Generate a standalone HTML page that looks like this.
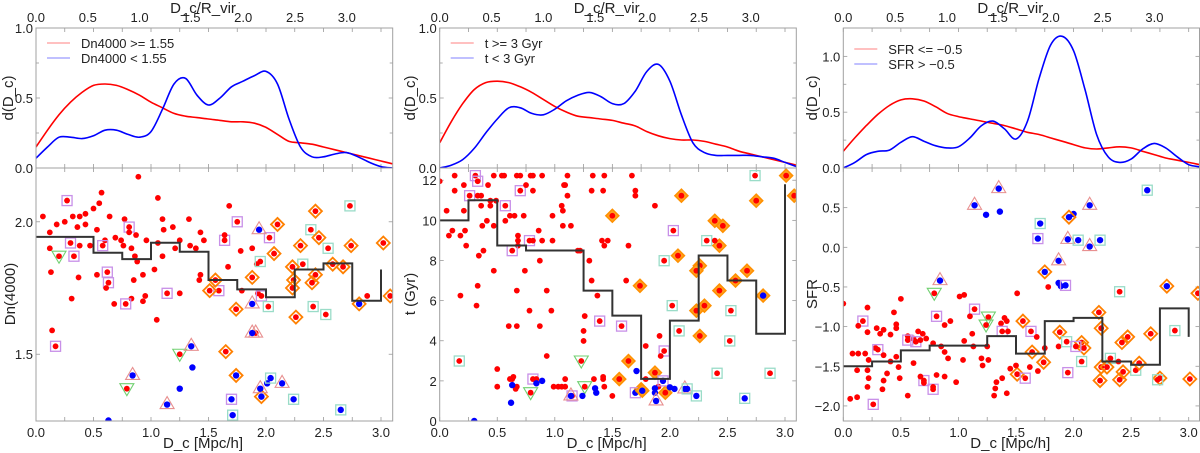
<!DOCTYPE html>
<html><head><meta charset="utf-8"><style>
html,body{margin:0;padding:0;background:#fff;}
svg{display:block;font-family:"Liberation Sans",sans-serif;}
</style></head><body>
<svg id="chart" width="1200" height="453" viewBox="0 0 1200 453" xmlns="http://www.w3.org/2000/svg"></svg>
<script>
// ---------- data ----------
const kdeX = [0,0.1,0.2,0.3,0.4,0.5,0.6,0.7,0.8,0.9,1.0,1.1,1.2,1.3,1.4,1.5,1.6,1.7,1.8,1.9,2.0,2.1,2.2,2.3,2.4,2.5,2.6,2.7,2.8,2.9,3.0,3.1];
const kde1Red  = [0.15,0.27,0.38,0.47,0.54,0.59,0.60,0.59,0.56,0.52,0.47,0.43,0.39,0.37,0.36,0.35,0.34,0.33,0.33,0.32,0.29,0.24,0.19,0.18,0.17,0.15,0.13,0.11,0.09,0.07,0.05,0.03];
const kde1Blue = [0.07,0.15,0.22,0.22,0.21,0.23,0.27,0.27,0.24,0.22,0.26,0.42,0.60,0.64,0.52,0.45,0.50,0.58,0.62,0.66,0.69,0.60,0.35,0.15,0.08,0.08,0.10,0.11,0.08,0.04,0.01,0.0];
const kde2Red  = [0.18,0.33,0.46,0.56,0.61,0.62,0.61,0.58,0.54,0.49,0.44,0.40,0.37,0.36,0.35,0.34,0.32,0.30,0.26,0.23,0.21,0.20,0.20,0.19,0.17,0.15,0.12,0.10,0.08,0.06,0.04,0.02];
const kde2Blue = [0.0,0.02,0.06,0.14,0.25,0.35,0.43,0.43,0.39,0.38,0.42,0.48,0.52,0.54,0.51,0.46,0.46,0.55,0.69,0.74,0.62,0.38,0.18,0.11,0.09,0.09,0.09,0.09,0.08,0.07,0.04,0.01];
const kde3Red  = [0.15,0.27,0.38,0.48,0.56,0.61,0.62,0.60,0.55,0.49,0.46,0.44,0.42,0.40,0.38,0.35,0.32,0.30,0.27,0.24,0.21,0.18,0.17,0.18,0.19,0.18,0.15,0.12,0.09,0.07,0.05,0.03];
const kde3Blue = [0.0,0.05,0.12,0.15,0.16,0.23,0.28,0.24,0.20,0.18,0.19,0.27,0.38,0.42,0.35,0.26,0.42,0.80,1.10,1.18,1.05,0.70,0.30,0.10,0.05,0.08,0.17,0.22,0.18,0.10,0.03,0.01];

const binEdges = [0,0.25,0.5,0.75,1.0,1.25,1.5,1.75,2.0,2.25,2.5,2.75,3.0];
const step1 = [1.943,1.943,1.883,1.859,1.921,1.887,1.78,1.745,1.715,1.82,1.843,1.702];
const step1End = 1.82;
const step2 = [10,11,8.75,8.5,8.5,6.5,5.25,2.1,5.0,8.25,7.0,4.35];
const step2End = 11.8;
const step3 = [-1.5,-1.44,-1.3,-1.24,-1.24,-1.12,-1.34,-0.93,-0.89,-1.44,-1.48,-0.77];
const step3End = -1.13;

const pts1 = [[0.89,2.17,'r'],[0.57,2.11,'r'],[1.06,2.09,'r'],[0.55,2.07,'r'],[0.50,2.05,'r'],[0.43,2.03,'r'],[0.27,2.08,'rs'],[0.06,2.02,'r'],[0.32,2.02,'r'],[0.38,2.02,'r'],[0.64,2.02,'r'],[0.77,2.01,'r'],[1.10,2.01,'r'],[1.33,2.01,'r'],[1.68,2.06,'r'],[1.75,2.00,'rs'],[0.81,1.98,'rs'],[0.25,2.00,'r'],[0.18,1.99,'r'],[0.43,1.99,'r'],[0.36,1.98,'r'],[0.53,1.97,'r'],[0.69,1.94,'r'],[0.81,1.96,'r'],[0.87,1.95,'r'],[1.11,1.97,'r'],[1.19,1.98,'r'],[1.43,1.96,'r'],[1.46,1.93,'r'],[0.96,1.93,'r'],[1.06,1.92,'r'],[1.25,1.93,'r'],[1.34,1.91,'r'],[1.21,1.90,'r'],[1.39,1.90,'r'],[0.12,1.96,'r'],[0.12,1.90,'r'],[0.30,1.92,'rs'],[0.38,1.91,'r'],[0.47,1.91,'r'],[0.60,1.93,'r'],[0.74,1.93,'r'],[0.76,1.91,'r'],[0.83,1.90,'r'],[1.10,1.87,'r'],[0.86,1.87,'r'],[0.88,1.85,'r'],[0.58,1.91,'rs'],[1.64,1.93,'rs'],[1.64,1.95,'r'],[1.78,1.89,'r'],[1.88,1.90,'r'],[2.03,1.94,'rs'],[1.92,1.84,'r'],[1.67,1.83,'r'],[1.03,1.82,'r'],[1.43,1.80,'r'],[1.42,1.78,'r'],[0.53,1.80,'r'],[0.13,1.81,'r'],[0.37,1.79,'r'],[0.31,1.71,'r'],[0.62,1.81,'rs'],[0.63,1.77,'rs'],[0.61,1.75,'r'],[0.85,1.78,'r'],[0.93,1.80,'r'],[0.95,1.72,'r'],[0.93,1.70,'r'],[0.83,1.71,'r'],[0.78,1.69,'rs'],[0.68,1.69,'r'],[1.14,1.73,'rs'],[1.25,1.73,'r'],[1.05,1.63,'r'],[1.59,1.74,'rs'],[1.79,1.74,'r'],[1.93,1.73,'r'],[1.96,1.72,'rs'],[2.88,1.72,'r'],[0.14,1.59,'r'],[0.17,1.53,'rs'],[1.25,1.50,'rv'],[0.79,1.37,'rv'],[1.91,1.58,'rt'],[0.20,1.87,'rv'],[0.33,1.87,'rs'],
[2.02,1.68,'rc'],[2.41,1.68,'rc'],[2.52,1.65,'rc'],[2.73,2.06,'rc'],[2.39,1.97,'rc'],[2.54,1.90,'rc'],[1.95,1.85,'rc'],[2.32,1.84,'rc'],
[3.08,1.72,'rd'],[2.43,2.04,'rd'],[2.10,1.99,'rd'],[2.46,1.94,'rd'],[3.02,1.92,'rd'],[2.30,1.91,'rd'],[2.74,1.91,'rd'],[2.07,1.88,'rd'],[2.23,1.83,'rd'],[2.58,1.84,'rd'],[2.67,1.83,'rd'],[2.43,1.80,'rd'],[1.88,1.79,'rd'],[1.56,1.78,'rd'],[2.24,1.78,'rd'],[2.40,1.77,'rd'],[1.51,1.74,'rd'],[2.23,1.75,'rd'],[1.74,1.67,'rd'],[2.26,1.64,'rd'],[1.65,1.51,'rd'],
[1.94,1.97,'bt'],[1.88,1.69,'bt'],[1.88,1.58,'bt'],[1.35,1.53,'bt'],[1.36,1.45,'b'],[1.25,1.37,'b'],[0.84,1.42,'bt'],[1.14,1.31,'bt'],[0.63,1.25,'b'],[1.71,1.27,'bc'],[1.70,1.33,'bs'],[1.74,1.42,'bd'],[1.96,1.34,'bd'],[1.95,1.37,'bt'],[2.01,1.39,'b'],[2.04,1.41,'bc'],[2.14,1.39,'bt'],[2.24,1.33,'bc'],[2.65,1.29,'bc'],[2.81,1.69,'bd']];

const pts2 = [[0.13,12.23,'r'],[0.31,12.23,'rs'],[0.47,12.23,'r'],[0.54,12.23,'r'],[0.56,12.23,'r'],[0.67,12.23,'r'],[0.70,12.23,'r'],[0.79,12.23,'r'],[0.81,12.23,'r'],[0.89,12.23,'r'],[1.11,12.23,'r'],[1.33,12.23,'r'],[1.43,12.23,'r'],[1.67,12.23,'r'],[0.0,11.95,'r'],[0.33,11.95,'rs'],
[0.13,11.48,'r'],[0.70,11.48,'rs'],[0.81,11.48,'r'],[1.32,11.48,'r'],[1.42,11.48,'r'],[1.70,11.48,'r'],[0.21,11.76,'r'],[0.42,11.76,'r'],[0.75,11.76,'r'],[1.08,11.76,'r'],[1.09,11.76,'r'],[0.26,11.23,'rs'],[0.33,11.23,'r'],[0.36,11.23,'r'],[1.11,11.23,'r'],[1.70,11.23,'r'],[0.44,10.98,'r'],[0.49,10.98,'r'],[0.36,10.73,'r'],[0.44,10.73,'r'],[0.57,10.73,'rs'],[1.06,10.73,'r'],[1.87,10.73,'r'],[0.06,10.48,'r'],[0.21,10.48,'r'],[1.07,10.48,'r'],[0.61,10.23,'r'],[0.65,10.23,'r'],[0.73,10.23,'r'],[0.98,10.23,'r'],[0.41,9.98,'r'],[0.57,9.98,'r'],[0.37,9.73,'r'],[0.47,9.73,'r'],[1.07,9.73,'r'],[1.14,9.73,'r'],[0.11,9.49,'r'],[0.22,9.49,'r'],[0.86,9.49,'r'],[2.03,9.49,'rs'],[0.08,9.24,'r'],[0.18,9.24,'r'],[0.68,9.24,'r'],[0.68,8.99,'r'],[0.78,8.99,'rs'],[0.81,8.99,'r'],[0.89,8.99,'r'],[0.98,8.99,'r'],[1.41,8.99,'r'],[1.46,8.99,'r'],[0.23,8.74,'r'],[0.68,8.74,'r'],[1.43,8.74,'r'],[1.64,8.74,'r'],[0.38,8.49,'r'],[0.63,8.49,'rs'],[1.20,8.49,'r'],[1.22,8.49,'r'],[0.34,8.24,'r'],[0.87,7.99,'r'],[1.30,7.99,'r'],[1.95,7.99,'rc'],[0.47,7.49,'r'],[0.74,7.49,'r'],[1.32,7.0,'r'],[1.62,7.0,'r'],[0.33,6.74,'r'],[0.67,6.5,'r'],[0.93,6.5,'r'],[0.18,6.25,'r'],[1.37,6.25,'r'],[0.32,5.75,'r'],[2.02,5.75,'rc'],[0.78,5.5,'r'],[0.97,5.5,'r'],[1.26,5.23,'r'],[1.39,4.98,'rs'],[0.60,4.73,'r'],[0.67,4.73,'r'],[0.87,4.73,'r'],[1.58,4.73,'rs'],[1.25,4.49,'r'],[2.08,4.49,'rc'],[1.25,3.99,'r'],[2.52,3.99,'rc'],[1.91,4.24,'r'],[1.79,3.74,'r'],[1.95,3.49,'rs'],[0.93,3.24,'r'],[1.92,3.24,'r'],[0.17,2.99,'rc'],[1.23,2.99,'rv'],[0.50,2.59,'r'],[0.61,2.09,'r'],[0.63,2.09,'r'],[0.81,2.09,'rs'],[0.84,2.09,'r'],[1.09,2.09,'r'],[1.34,2.09,'r'],[1.42,2.09,'r'],[1.79,2.09,'r'],[0.64,2.2,'r'],[1.42,2.2,'r'],[0.50,1.71,'r'],[0.67,1.71,'r'],[0.99,1.71,'r'],[1.03,1.71,'r'],[1.06,1.71,'r'],[1.09,1.71,'r'],[1.26,1.71,'rv'],[1.43,1.71,'r'],[1.90,1.71,'r'],[0.66,1.6,'r'],[0.79,1.41,'rv'],[1.50,1.25,'r'],[1.15,1.25,'rs'],[2.41,2.38,'rc'],[2.87,2.38,'rc'],[2.32,8.99,'rc'],[2.53,5.5,'rc'],[2.74,12.23,'rc'],
[1.50,10.23,'rD'],[2.10,11.23,'rD'],[3.01,12.23,'rD'],[3.08,11.23,'rD'],[2.75,10.98,'rD'],[2.39,9.98,'rD'],[2.46,9.73,'rD'],[2.43,8.74,'rD'],[2.39,8.99,'r'],[2.07,8.24,'rD'],[2.26,7.74,'rD'],[2.23,7.49,'rD'],[2.67,7.49,'rD'],[1.74,6.74,'rD'],[2.57,7.0,'rD'],[2.43,6.5,'rD'],[2.81,6.25,'bD'],[2.30,5.75,'rD'],[2.23,5.5,'rD'],[2.26,4.24,'rD'],[1.64,2.99,'rD'],[1.56,2.09,'rD'],[1.87,2.41,'rD'],[1.75,1.58,'rD'],[1.96,1.41,'rD'],
[0.30,0.0,'b'],[0.62,0.91,'b'],[0.63,1.79,'b'],[0.84,1.88,'b'],[0.89,2.0,'b'],[1.14,1.25,'bt'],[1.24,1.25,'b'],[1.35,1.63,'b'],[1.36,1.41,'b'],[1.71,2.49,'b'],[1.70,1.41,'bs'],[1.87,1.63,'b'],[1.87,1.41,'b'],[1.88,1.0,'bt'],[1.94,2.0,'bs'],[2.0,1.68,'b'],[2.04,1.6,'b'],[2.13,1.6,'bt'],[2.15,1.6,'bc'],[2.23,1.25,'bc'],[1.76,1.51,'bD'],[2.65,1.13,'bc']];

const pts3 = [[1.35,0.74,'bt'],[1.14,0.53,'bt'],[1.24,0.41,'b'],[1.36,0.45,'b'],[2.64,0.72,'bc'],[2.14,0.53,'bt'],[2.0,0.42,'b'],[1.96,0.38,'bd'],[1.71,0.30,'bc'],[1.69,0.11,'bs'],[1.95,0.10,'bt'],[2.04,0.09,'bc'],[2.23,0.09,'bc'],[2.14,0.01,'bt'],[1.87,-0.17,'bt'],[1.75,-0.31,'bd'],[0.84,-0.42,'bt'],[1.87,-0.45,'b'],[1.89,-0.49,'b'],[1.93,-0.48,'bs'],[2.81,-0.49,'bd'],
[1.78,-0.50,'r'],[2.40,-0.56,'rc'],[3.08,-0.58,'rd'],[1.51,-0.58,'r'],[0.79,-0.58,'rv'],[1.05,-0.60,'r'],[1.01,-0.62,'r'],[0.50,-0.65,'r'],[0.0,-0.71,'r'],[0.21,-0.76,'r'],[0.44,-0.82,'r'],[1.14,-0.78,'rs'],[0.81,-0.87,'rs'],[0.88,-0.98,'r'],[0.93,-0.93,'r'],[1.10,-0.87,'r'],[1.26,-0.88,'rv'],[1.24,-0.98,'rv'],[1.40,-0.89,'r'],[1.42,-0.93,'r'],[1.37,-0.96,'r'],[1.56,-0.93,'rd'],[2.22,-0.82,'rd'],[0.17,-0.93,'rs'],[0.13,-0.99,'r'],[0.46,-0.97,'r'],[0.46,-1.02,'r'],[0.29,-1.02,'r'],[0.35,-1.04,'r'],[0.21,-1.07,'r'],[0.32,-1.09,'r'],[0.41,-1.10,'r'],[0.56,-1.12,'r'],[0.65,-1.06,'r'],[0.69,-1.09,'r'],[0.61,-1.15,'r'],[0.56,-1.17,'rs'],[0.63,-1.19,'rs'],[0.67,-1.17,'r'],[0.72,-1.15,'r'],[0.78,-1.21,'r'],[0.85,-1.25,'r'],[0.88,-1.32,'r'],[1.05,-1.18,'r'],[1.12,-1.09,'r'],[1.13,-1.25,'r'],[1.25,-1.25,'r'],[1.38,-1.06,'rs'],[1.43,-1.06,'r'],[1.63,-1.06,'rs'],[1.68,-1.13,'r'],[1.75,-1.27,'r'],[1.87,-1.25,'r'],[1.88,-1.07,'rd'],[1.94,-1.19,'rc'],[2.07,-1.20,'rd'],[2.09,-1.27,'rd'],[2.02,-1.25,'rs'],[2.24,-1.02,'rd'],[2.47,-1.13,'rd'],[2.42,-1.20,'rd'],[2.67,-1.09,'rd'],[2.88,-1.05,'rc'],[1.64,-1.32,'rd'],[1.74,-1.45,'rd'],[1.62,-1.51,'r'],[1.69,-1.56,'r'],[1.51,-1.60,'rd'],[1.58,-1.65,'rs'],[1.50,-1.49,'r'],[1.45,-1.53,'r'],[1.38,-1.65,'r'],[1.33,-1.70,'r'],[1.32,-1.78,'r'],[1.31,-1.87,'r'],[1.42,-1.84,'r'],[1.21,-1.49,'r'],[1.26,-1.42,'r'],[1.20,-1.40,'r'],[1.04,-1.42,'r'],[0.98,-1.70,'r'],[0.91,-1.40,'r'],[0.81,-1.61,'r'],[0.88,-1.63,'r'],[0.78,-1.79,'rs'],[0.78,-1.76,'r'],[0.70,-1.68,'rs'],[0.70,-1.71,'r'],[0.67,-1.63,'r'],[0.61,-1.46,'r'],[0.46,-1.38,'r'],[0.48,-1.51,'r'],[0.41,-1.44,'r'],[0.38,-1.59,'r'],[0.35,-1.68,'r'],[0.34,-1.79,'r'],[0.56,-1.87,'r'],[0.49,-1.65,'r'],[0.26,-1.98,'rs'],[0.06,-1.91,'r'],[0.12,-1.89,'r'],[0.08,-1.34,'r'],[0.13,-1.34,'r'],[0.19,-1.34,'r'],[0.22,-1.42,'r'],[0.12,-1.55,'r'],[0.21,-1.55,'r'],[0.22,-1.65,'r'],[0.21,-1.76,'r'],[0.28,-1.27,'r'],[0.30,-1.29,'rs'],[0.35,-1.36,'r'],[1.95,-1.58,'rs'],[2.07,-1.44,'rc'],[2.32,-1.40,'rc'],[2.24,-1.51,'rd'],[2.29,-1.51,'rd'],[2.39,-1.44,'r'],[2.54,-1.55,'rc'],[2.57,-1.46,'rd'],[2.43,-1.57,'rd'],[2.23,-1.68,'rd'],[2.40,-1.67,'rd'],[2.75,-1.65,'rd'],[2.73,-1.67,'rc'],[3.01,-1.66,'rd']];

const xTicks = [0.0,0.5,1.0,1.5,2.0,2.5,3.0];
const topTicks = [0.0,0.5,1.0,1.5,2.0,2.5,3.0];
const ytop12 = [0.0,0.5,1.0];
const ytop3 = [0.0,0.5,1.0];
const yb1 = [1.5,2.0];
const yb2 = [0,2,4,6,8,10,12];
const yb3 = [-2.0,-1.5,-1.0,-0.5,0.0,0.5];

// ---------- drawing ----------
const NS='http://www.w3.org/2000/svg';
const svg=document.getElementById('chart');
function el(tag,attrs,parent){const e=document.createElementNS(NS,tag);for(const k in attrs)e.setAttribute(k,attrs[k]);(parent||svg).appendChild(e);return e;}
function fmt(v,d){let s=v.toFixed(d);return s.replace('-','\u2212');}

const panels=[
 {L:36,R:392.7,x3:381,top:[0,1.0],ytopT:ytop12,bot:[1.248,2.203],ybT:yb1,ybD:1,ylab:'Dn(4000)',red:kde1Red,blue:kde1Blue,step:step1,stepEnd:step1End,pts:pts1,leg:['Dn4000 >= 1.55','Dn4000 < 1.55'],legY:43,tLab:8,bLab:10},
 {L:439.7,R:796.3,x3:785,top:[0,1.0],ytopT:ytop12,bot:[0,12.61],ybT:yb2,ybD:0,ylab:'t (Gyr)',red:kde2Red,blue:kde2Blue,step:step2,stepEnd:step2End,pts:pts2,leg:['t >= 3 Gyr','t < 3 Gyr'],legY:43,tLab:410,bLab:410},
 {L:843.3,R:1199.5,x3:1188.7,top:[0,1.254],ytopT:ytop3,bot:[-2.19,1.0],ybT:yb3,ybD:1,ylab:'SFR',red:kde3Red,blue:kde3Blue,step:step3,stepEnd:step3End,pts:pts3,leg:['SFR <= \u22120.5','SFR > \u22120.5'],legY:49,tLab:812,bLab:812}
];
const T0=28,MID=168,B1=421;

function smoothPath(xs,ys){
  let d='M'+xs[0].toFixed(1)+','+ys[0].toFixed(1);
  for(let i=0;i<xs.length-1;i++){
    const x0=xs[Math.max(i-1,0)],y0=ys[Math.max(i-1,0)],x1=xs[i],y1=ys[i],x2=xs[i+1],y2=ys[i+1],x3=xs[Math.min(i+2,xs.length-1)],y3=ys[Math.min(i+2,xs.length-1)];
    d+=' C'+(x1+(x2-x0)/6).toFixed(1)+','+(y1+(y2-y0)/6).toFixed(1)+' '+(x2-(x3-x1)/6).toFixed(1)+','+(y2-(y3-y1)/6).toFixed(1)+' '+x2.toFixed(1)+','+y2.toFixed(1);
  }
  return d;
}

panels.forEach((p,pi)=>{
  const g=el('g',{});
  
  
  const kx=(p.x3-p.L)/3.0;
  const X=v=>p.L+v*kx;
  const topK=(p.x3-p.L)/3.0*103.6/115;
  const YT=v=>MID-(v-p.top[0])/(p.top[1]-p.top[0])*(MID-T0);
  const YB=v=>B1-(v-p.bot[0])/(p.bot[1]-p.bot[0])*(B1-MID);
  const W=p.R-p.L;
  const cid='clip'+pi;
  const cp=el('clipPath',{id:cid},g);el('rect',{x:p.L,y:MID,width:W,height:B1-MID},cp);
  const cid2='clipt'+pi;
  const cp2=el('clipPath',{id:cid2},g);el('rect',{x:p.L,y:T0,width:W,height:MID-T0},cp2);

  for(let v=0;v<=3.1001;v+=0.25){
    const x=X(v);
    [[T0,4],[MID,-4],[MID,4],[B1,-4]].forEach(([y,l])=>el('line',{x1:x,x2:x,y1:y,y2:y+l,stroke:'#999','stroke-width':0.8},g));
  }
  topTicks.forEach(v=>{const t=el('text',{x:p.L+v*topK,y:22,'font-size':13,'text-anchor':'middle',fill:'#222'},g);t.textContent=v.toFixed(1);
    
    });
  const tt=el('text',{x:p.L+167,y:13,'font-size':15,'text-anchor':'middle',fill:'#222'},g);tt.textContent='D_c/R_vir';
  
  
  xTicks.forEach(v=>{const t=el('text',{x:X(v),y:437,'font-size':13,'text-anchor':'middle',fill:'#222'},g);t.textContent=v.toFixed(1);
    
    });
  const bt=el('text',{x:p.L+167,y:448,'font-size':15,'text-anchor':'middle',fill:'#222'},g);bt.textContent='D_c [Mpc/h]';
  
  
  p.ytopT.forEach(v=>{const y=YT(v);
    el('line',{x1:p.L,x2:p.L+4,y1:y,y2:y,stroke:'#999','stroke-width':0.8},g);
    el('line',{x1:p.R,x2:p.R-4,y1:y,y2:y,stroke:'#999','stroke-width':0.8},g);
    const t=el('text',{x:p.L-3,y:y+5,'font-size':13,'text-anchor':'end',fill:'#222'},g);t.textContent=v.toFixed(1);
    
    });
  [0.25,0.75].forEach(v=>{const y=YT(v);el('line',{x1:p.L,x2:p.L+3,y1:y,y2:y,stroke:'#999','stroke-width':0.8},g);el('line',{x1:p.R,x2:p.R-3,y1:y,y2:y,stroke:'#999','stroke-width':0.8},g);});
  p.ybT.forEach(v=>{const y=YB(v);
    el('line',{x1:p.L,x2:p.L+4,y1:y,y2:y,stroke:'#999','stroke-width':0.8},g);
    el('line',{x1:p.R,x2:p.R-4,y1:y,y2:y,stroke:'#999','stroke-width':0.8},g);
    const t=el('text',{x:p.L-3,y:y+5,'font-size':13,'text-anchor':'end',fill:'#222'},g);t.textContent=fmt(v,p.ybD);
    
    });
  const yt1=el('text',{x:0,y:0,'font-size':15,'text-anchor':'middle',fill:'#222',transform:'translate('+(p.tLab+5)+',98) rotate(-90)'},g);yt1.textContent='d(D_c)';
  
  
  const yt2=el('text',{x:0,y:0,'font-size':15,'text-anchor':'middle',fill:'#222',transform:'translate('+(p.bLab+5)+',294) rotate(-90)'},g);yt2.textContent=p.ylab;
  
  

  const xs=kdeX.map(X);
  const cg=el('g',{'clip-path':'url(#'+cid2+')'},g);
  const rp=el('path',{d:smoothPath(xs,p.red.map(YT)),fill:'none',stroke:'#ff0000','stroke-width':1.6},cg);
  
  
  const bp=el('path',{d:smoothPath(xs,p.blue.map(YT)),fill:'none',stroke:'#0000ff','stroke-width':1.6},cg);
  
  
  p.leg.forEach((s,i)=>{const y=p.legY+15*i;
    const ln=el('line',{x1:p.L+11,x2:p.L+34,y1:y,y2:y,stroke:i?'#8080ff':'#ff8080','stroke-width':1},g);
    
    
    const t=el('text',{x:p.L+45,y:y+5,'font-size':13,fill:'#222'},g);t.textContent=s;
    
    });

  const sg=el('g',{'clip-path':'url(#'+cid+')'},g);
  p.pts.forEach(pt=>{
    const x=X(pt[0]),y=YB(pt[1]),code=pt[2];
    if(code.includes('s'))el('rect',{x:x-5,y:y-5,width:10,height:10,fill:'none',stroke:'#c890e8','stroke-width':1.3},sg);
    if(code.includes('c'))el('rect',{x:x-5,y:y-5,width:10,height:10,fill:'none',stroke:'#9adcc8','stroke-width':1.3},sg);
    if(code.includes('d'))el('path',{d:`M${x},${y-6.5}L${x+6.5},${y}L${x},${y+6.5}L${x-6.5},${y}Z`,fill:'none',stroke:'#ff8000','stroke-width':1.8},sg);
    if(code.includes('D'))el('path',{d:`M${x},${y-6.5}L${x+6.5},${y}L${x},${y+6.5}L${x-6.5},${y}Z`,fill:'#ffa020',stroke:'#ff9000','stroke-width':1.5},sg);
    if(code.includes('t'))el('path',{d:`M${x},${y-8}L${x+7},${y+4}L${x-7},${y+4}Z`,fill:'none',stroke:'#e89090','stroke-width':1.1},sg);
    if(code.includes('v'))el('path',{d:`M${x},${y+7}L${x+7},${y-5}L${x-7},${y-5}Z`,fill:'none',stroke:'#70d070','stroke-width':1.1},sg);
    const c=el('circle',{cx:x,cy:y,r:code[0]==='b'?3.2:2.9,fill:code[0]==='b'?'#0000ff':'#ff0000'},sg);
    
    
  });
  let d='';
  p.step.forEach((v,i)=>{const y=YB(v);d+=(i?'L':'M')+X(binEdges[i])+','+y+'L'+X(binEdges[i+1])+','+y;});
  d+='L'+X(3.0)+','+YB(p.stepEnd);
  const st=el('path',{d:d,fill:'none',stroke:'#333','stroke-width':2},sg);
  
  

  el('rect',{x:p.L,y:T0,width:W,height:MID-T0,fill:'none',stroke:'#a0a0a0','stroke-width':1},g);
  el('rect',{x:p.L,y:MID,width:W,height:B1-MID,fill:'none',stroke:'#a0a0a0','stroke-width':1},g);
});
</script>
</body></html>
